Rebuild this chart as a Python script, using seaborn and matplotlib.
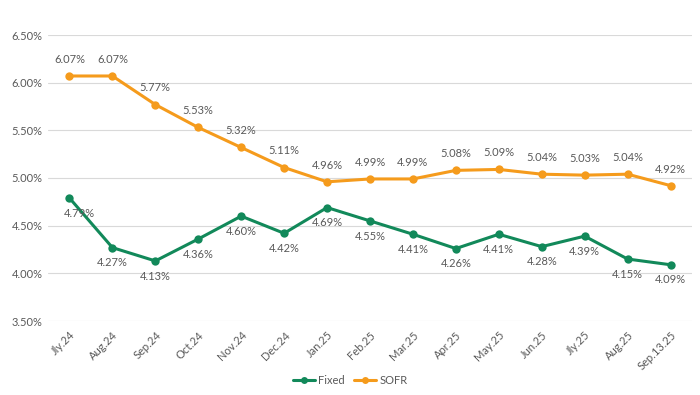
import matplotlib
matplotlib.use("Agg")
import matplotlib.pyplot as plt
import seaborn as sns
import pandas as pd
from matplotlib.ticker import FuncFormatter

months = ["Jly.24", "Aug.24", "Sep.24", "Oct.24", "Nov.24", "Dec.24", "Jan.25",
          "Feb.25", "Mar.25", "Apr.25", "May.25", "Jun.25", "Jly.25", "Aug.25", "Sep.13.25"]
fixed = [4.79, 4.27, 4.13, 4.36, 4.60, 4.42, 4.69, 4.55, 4.41, 4.26, 4.41, 4.28, 4.39, 4.15, 4.09]
sofr = [6.07, 6.07, 5.77, 5.53, 5.32, 5.11, 4.96, 4.99, 4.99, 5.08, 5.09, 5.04, 5.03, 5.04, 4.92]

GREEN = "#12895A"
ORANGE = "#F59B1C"
TXT = "#595959"

sns.set_theme(style="white")
plt.rcParams["font.family"] = ["Lato", "DejaVu Sans"]

df = pd.DataFrame({"month": months * 2,
                   "rate": fixed + sofr,
                   "series": ["Fixed"] * len(months) + ["SOFR"] * len(months)})
df["x"] = list(range(len(months))) * 2

fig = plt.figure(figsize=(7, 3.95), dpi=100)
ax = fig.add_axes([48 / 700, 1 - 321 / 395, 644 / 700, 286 / 395])

sns.lineplot(data=df, x="x", y="rate", hue="series", palette={"Fixed": GREEN, "SOFR": ORANGE},
             marker="o", markersize=6, markeredgewidth=0, linewidth=2.2, ax=ax, legend=False)

ax.set_xlim(-0.5, len(months) - 0.5)
ax.set_ylim(3.5, 6.5)
ax.set_yticks([3.5, 4.0, 4.5, 5.0, 5.5, 6.0, 6.5])
ax.yaxis.set_major_formatter(FuncFormatter(lambda v, p: f"{v:.2f}%"))
ax.set_xticks(range(len(months)))
ax.set_xticklabels(months, rotation=45, ha="right", rotation_mode="anchor")
ax.tick_params(axis="both", colors=TXT, labelsize=8, length=0, pad=4)
ax.tick_params(axis="x", pad=6)
ax.grid(axis="y", color="#D9D9D9", linewidth=0.8)
ax.set_axisbelow(True)
for s in ax.spines.values():
    s.set_visible(False)
ax.set_xlabel("")
ax.set_ylabel("")

for i, v in enumerate(sofr):
    ax.annotate(f"{v:.2f}%", (i, v), xytext=(0, 8), textcoords="offset points",
                ha="center", va="bottom", fontsize=8, color=TXT)
for i, v in enumerate(fixed):
    dx = 7 if i == 0 else 0
    ax.annotate(f"{v:.2f}%", (i, v), xytext=(dx, -7), textcoords="offset points",
                ha="center", va="top", fontsize=8, color=TXT)

from matplotlib.lines import Line2D
handles = [Line2D([], [], color=GREEN, marker="o", markersize=5, markeredgewidth=0, linewidth=2.2),
           Line2D([], [], color=ORANGE, marker="o", markersize=5, markeredgewidth=0, linewidth=2.2)]
fig.legend(handles, ["Fixed", "SOFR"], loc="center", bbox_to_anchor=(0.5, 1 - 380 / 395),
           ncol=2, frameon=False, fontsize=8, labelcolor=TXT, handlelength=2.0,
           handletextpad=0.3, columnspacing=0.8)

fig.savefig("out.png", dpi=100)
